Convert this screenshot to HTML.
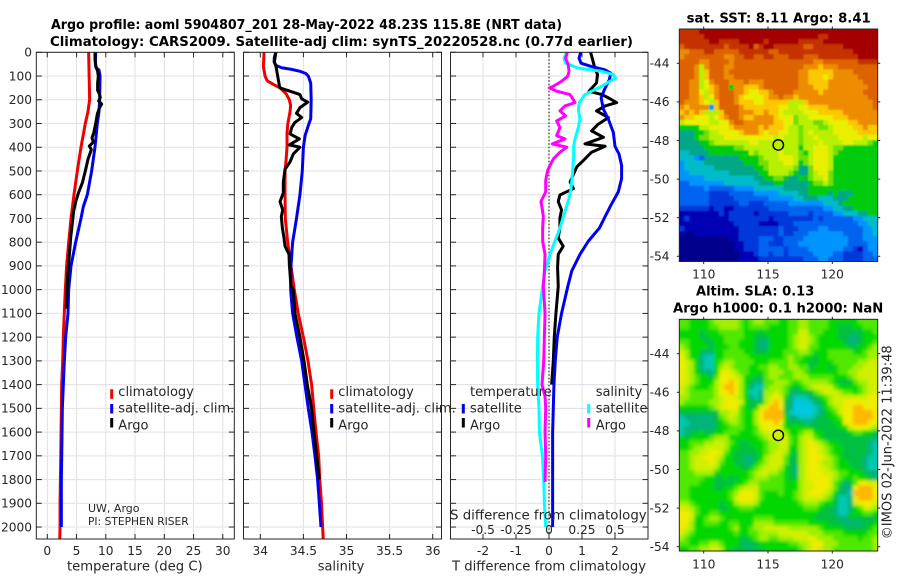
<!DOCTYPE html>
<html lang="en">
<head>
<meta charset="utf-8">
<title>Argo profile 5904807_201</title>
<style>
html,body{margin:0;padding:0;background:#fff;}
svg{display:block;}
text{font-family:"DejaVu Sans","Liberation Sans",sans-serif;fill:#262626;}
.ttl{font-weight:bold;font-size:13px;fill:#000;}
.leg{font-size:13px;}
.lab{font-size:13px;}
.tick{font-size:12.2px;}
</style>
</head>
<body>
<svg id="chart" xmlns="http://www.w3.org/2000/svg" width="900" height="580" viewBox="0 0 900 580">
  <defs>
    <clipPath id="sstClip"><rect x="679.3" y="29" width="198.4" height="232.5"/></clipPath>
    <clipPath id="slaClip"><rect x="679.3" y="319.3" width="198.4" height="231.7"/></clipPath>
    <filter id="softSla" x="-5%" y="-5%" width="110%" height="110%"><feGaussianBlur stdDeviation="1.6"/></filter>
    <filter id="softSst" x="-5%" y="-5%" width="110%" height="110%"><feGaussianBlur stdDeviation="0.9"/></filter>
  </defs>
  <rect width="900" height="580" fill="#fff"/>

  <text class="ttl" x="51" y="29" textLength="511" lengthAdjust="spacingAndGlyphs">Argo profile: aoml 5904807_201 28-May-2022 48.23S 115.8E (NRT data)</text>
  <text class="ttl" x="50" y="46" textLength="583" lengthAdjust="spacingAndGlyphs">Climatology: CARS2009. Satellite-adj clim: synTS_20220528.nc (0.77d earlier)</text>

  <g id="panelT"></g>
  <g id="panelS"></g>
  <g id="panelD"></g>
  <g id="mapSst"></g>
  <g id="mapSla"></g>

  <g>
    <rect x="110.2" y="389.3" width="3" height="9.5" fill="#f00000"/>
    <rect x="110.2" y="404" width="3" height="9.5" fill="#0000f0"/>
    <rect x="110.2" y="418" width="3" height="9.5" fill="#000"/>
    <text class="leg" x="118.3" y="396">climatology</text>
    <text class="leg" x="118.3" y="412.7" textLength="116" lengthAdjust="spacingAndGlyphs">satellite-adj. clim.</text>
    <text class="leg" x="118.3" y="429.3">Argo</text>
  </g>
  <g>
    <rect x="330.2" y="389.3" width="3" height="9.5" fill="#f00000"/>
    <rect x="330.2" y="404" width="3" height="9.5" fill="#0000f0"/>
    <rect x="330.2" y="418" width="3" height="9.5" fill="#000"/>
    <text class="leg" x="338.3" y="396">climatology</text>
    <text class="leg" x="338.3" y="412.7" textLength="117.5" lengthAdjust="spacingAndGlyphs">satellite-adj. clim.</text>
    <text class="leg" x="338.3" y="429.3">Argo</text>
  </g>
  <g>
    <rect x="461.8" y="404" width="3" height="9.5" fill="#0000f0"/>
    <rect x="461.8" y="418" width="3" height="9.5" fill="#000"/>
    <text class="leg" x="470" y="396">temperature</text>
    <text class="leg" x="470" y="412.7">satellite</text>
    <text class="leg" x="470" y="429.3">Argo</text>
    <rect x="587.2" y="404" width="3" height="9.5" fill="#00ffff"/>
    <rect x="587.2" y="418" width="3" height="9.5" fill="#ff00ff"/>
    <text class="leg" x="595.7" y="396">salinity</text>
    <text class="leg" x="595.7" y="412.7">satellite</text>
    <text class="leg" x="595.7" y="429.3">Argo</text>
  </g>

  <text x="88" y="512" style="font-size:11px">UW, Argo</text>
  <text x="88" y="525" textLength="100.7" lengthAdjust="spacingAndGlyphs" style="font-size:11px">PI: STEPHEN RISER</text>

  <text class="lab" x="67" y="570.5" textLength="135.7" lengthAdjust="spacingAndGlyphs">temperature (deg C)</text>
  <text class="lab" x="341" y="570.5" text-anchor="middle">salinity</text>
  <text class="lab" x="452" y="570.5" textLength="194" lengthAdjust="spacingAndGlyphs">T difference from climatology</text>
  <text class="lab" x="450" y="519.3" textLength="196.7" lengthAdjust="spacingAndGlyphs">S difference from climatology</text>

  <text class="ttl" x="686.7" y="22.7" textLength="184" lengthAdjust="spacingAndGlyphs">sat. SST: 8.11 Argo: 8.41</text>
  <text class="ttl" x="696" y="295.7" textLength="118.3" lengthAdjust="spacingAndGlyphs">Altim. SLA: 0.13</text>
  <text class="ttl" x="673" y="312.7" textLength="210.3" lengthAdjust="spacingAndGlyphs">Argo h1000: 0.1 h2000: NaN</text>
  <text class="lab" transform="translate(891.7 539.3) rotate(-90)" x="0" y="0" textLength="194" lengthAdjust="spacingAndGlyphs">©IMOS 02-Jun-2022 11:39:48</text>
</svg>

<script>
// ---------- axis ticks ----------
const depthTicks = [0,100,200,300,400,500,600,700,800,900,1000,1100,1200,1300,1400,1500,1600,1700,1800,1900,2000];
const tempTicks = [0,5,10,15,20,25,30];
const salTicks = [34,34.5,35,35.5,36];
const salTickLabels = ['34','34.5','35','35.5','36'];
const tDiffTicks = [-2,-1,0,1,2];
const sDiffTicks = [-0.5,-0.25,0,0.25,0.5];
const sDiffTickLabels = ['-0.5','-0.25','0','0.25','0.5'];
const lonTicks = [110,115,120];
const latTicks = [-44,-46,-48,-50,-52,-54];
const argoLon = 115.8;
const argoLat = -48.23;

// ---------- temperature panel ----------
const tempClimDepth = [0,100,200,250,300,400,500,600,700,800,900,1000,1100,1200,1300,1400,1500,1600,1700,1800,1900,2000,2050];
const tempClimValue = [7.07,7.15,7.24,6.95,6.5,5.76,5.13,4.56,4.05,3.66,3.3,3.08,2.9,2.74,2.63,2.46,2.41,2.35,2.3,2.24,2.18,2.18,2.13];
const tempSatDepth = [0,50,65,75,100,200,250,300,400,500,600,650,700,800,900,1000,1100,1200,1300,1400,1500,1600,1700,1800,1900,2000];
const tempSatValue = [8.27,8.21,8.32,8.84,9.01,8.95,8.84,8.55,8.15,7.58,6.84,6.16,5.76,4.85,4.05,3.65,3.54,3.14,2.91,2.74,2.57,2.52,2.46,2.4,2.4,2.4];
const tempArgoDepth = [0,30,60,80,100,130,160,175,190,205,218,235,260,300,340,360,378,395,410,450,500,550,590,630,670,720,780,840,900,950,1000,1080];
const tempArgoValue = [8.15,8.15,8.32,8.6,8.72,8.6,8.6,8.9,9.06,8.78,9.29,8.9,8.55,8.27,7.93,7.64,7.87,7.18,7.53,6.96,6.5,5.99,5.36,4.85,4.5,4.28,4.0,3.82,3.6,3.48,3.37,3.25];

// ---------- salinity panel ----------
const salClimDepth = [0,30,60,75,100,120,135,150,175,200,225,250,300,340,400,450,500,550,600,700,800,900,1000,1100,1200,1300,1400,1500,1600,1700,1800,1900,2000,2050];
const salClimValue = [34.043,34.04,34.036,34.043,34.055,34.08,34.15,34.23,34.30,34.337,34.352,34.345,34.32,34.31,34.31,34.30,34.287,34.287,34.287,34.29,34.318,34.356,34.394,34.44,34.5,34.553,34.595,34.62,34.646,34.677,34.69,34.71,34.723,34.73];
const salSatDepth = [0,20,40,55,65,72,80,90,100,130,200,280,300,350,400,500,600,700,800,900,1000,1100,1200,1300,1400,1500,1600,1700,1800,1900,2000];
const salSatValue = [34.18,34.163,34.16,34.18,34.248,34.364,34.46,34.53,34.557,34.585,34.59,34.585,34.565,34.52,34.50,34.487,34.46,34.42,34.375,34.356,34.352,34.375,34.425,34.48,34.518,34.557,34.6,34.634,34.665,34.685,34.704];
const salArgoDepth = [0,40,60,100,140,150,164,178,196,210,233,257,275,296,317,344,365,390,400,428,462,483,492,546,592,629,664,692,740,782,817,851,893,986,1000,1100,1200,1300,1400,1500,1600,1700,1800];
const salArgoValue = [34.182,34.163,34.182,34.2015,34.221,34.229,34.345,34.46,34.48,34.55,34.46,34.42,34.48,34.40,34.364,34.345,34.453,34.337,34.46,34.383,34.345,34.306,34.287,34.267,34.267,34.229,34.26,34.244,34.256,34.275,34.287,34.333,34.337,34.356,34.383,34.402,34.46,34.507,34.545,34.595,34.623,34.654,34.684];

// ---------- difference panel ----------
const diffTSatDepth = [0,25,46,60,74,88,115,157,192,240,282,338,396,428,476,532,588,643,692,740,796,851,921,986,1100,1200,1300,1400,1500,1600,1800,2000];
const diffTSatValue = [0.96,0.91,0.97,1.29,1.7,1.87,1.83,1.68,1.58,1.65,1.8,1.95,2.0,2.12,2.2,2.2,2.1,1.88,1.7,1.53,1.19,0.94,0.69,0.57,0.38,0.25,0.19,0.15,0.13,0.11,0.11,0.11];
const diffTArgoDepth = [0,25,67,94,129,164,178,192,212,226,247,275,303,331,358,386,396,421,456,483,546,574,601,629,664,699,740,782,817,851,907,986,1100,1200,1300,1400];
const diffTArgoValue = [1.26,1.31,1.39,1.47,1.44,1.21,1.6,1.8,2.05,1.7,1.44,1.8,1.49,1.29,1.65,1.09,1.7,1.29,1.04,0.84,0.64,0.74,0.33,0.28,0.38,0.33,0.33,0.28,0.43,0.28,0.26,0.28,0.21,0.16,0.13,0.08];
const diffSSatDepth = [0,25,46,67,74,80,94,108,122,143,157,178,212,240,282,317,365,396,435,504,574,615,671,740,796,851,921,986,1100,1200,1300,1400,1500,1600,1700,1800,1900,2000];
const diffSSatValue = [0.134,0.114,0.126,0.222,0.323,0.399,0.487,0.505,0.462,0.399,0.348,0.273,0.23,0.222,0.235,0.222,0.197,0.187,0.187,0.179,0.167,0.152,0.121,0.083,0.045,0.008,-0.03,-0.048,-0.076,-0.086,-0.088,-0.086,-0.076,-0.073,-0.05,-0.04,-0.035,-0.025];
const diffSArgoDepth = [0,25,53,80,101,122,143,150,164,178,199,212,226,247,268,289,317,351,365,386,400,421,449,476,497,539,588,629,664,692,740,796,851,921,986,1100,1200,1300,1400,1450,1500,1600,1700,1810];
const diffSArgoValue = [0.139,0.126,0.146,0.152,0.141,0.096,0.033,0.003,0.058,0.159,0.184,0.197,0.121,0.083,0.126,0.058,0.083,0.058,0.121,0.025,0.134,0.083,0.033,0.008,-0.01,-0.025,-0.025,-0.061,-0.05,-0.043,-0.048,-0.048,-0.03,-0.035,-0.043,-0.03,-0.035,-0.04,-0.053,-0.03,-0.025,-0.03,-0.025,-0.03];

// ---------- SST map levels: a = coldest ... p = warmest ----------
const sstRows = [
"oooopppppp pppppppppp pppppppppp pppppppppp",
"oooooppppp pppppppppp ppppppppoo pppppppppp",
"ooooooppoo oopppppopp ppppooooop pppppppppp",
"noooooooon oooopnoppo ooooonnooo oooppppppp",
"mmnnnoonnn nnoooooonn oooooooooo oooooppppp",
"mnnnnnnnnm mnnoonnoon nnooonnnoo oooooopppp",
"nnnnmmnnnn mnnnnnnnnn nnnnnnnmmn nnnnnnoooo",
"nnnmjmnnnm mnnnnnnnnn nnnnnmmmlm mmnnnnnnnn",
"nnnmjlnnnm nnnnnnnnnn nnnnmmllll lmmmmnnnnn",
"nnnmjlnnnm mnnnnnnnnn nnnnmmlllk lmmmmmnnnn",
"nnmmjkmnnn mmmnmmmnnn nnnnmmllll mmmmmmmnnn",
"nnmmjklmnn hmmlllmnnn nnnnmmmlll mmmmmmmmnn",
"nnmmkjlmnn nmmlkkllmn nnnmmmmmlm mmmmmmmnnn",
"nnmmljkmnn nmlkkkklmm nmmlmmmmmm mmmmmmmmnn",
"nmmmlkjlnn nmlllkklll lljjjlmmmm mmmmmmmmmn",
"mlmmmmelnn nnmlllllll kkjjkkllll mmmmmmmmmn",
"lmlmljjjln nnmmmllmll kjjjjkkkll lllmmmmmmm",
"mllkkkjklm nnmllmmmml kkkijjkkkk klllmmmmmm",
"jkkkkkjjkk mnnmmmmmml lkkijjjiij kkkkllmmmm",
"hhhhjjkkkk lmmmmmlmll lkjjijjjii jkkkkllmll",
"ggghhijjkk kklmmmlkll kkjjijkjjj jkkkkkllll",
"ggghiijjjk kkkkkkkkkj kjjjijjkjj jjkkkkkjkk",
"gggghhijjj jjjjkkjjjj jjjjijjjkj jjjkkjjjih",
"ggggghhhhh hiijjjjjjj jjjjhjjkkk jiihhhhhhh",
"ffgggghhhh hhhhjijjjj kjjjihjkkk jihhhhhhhh",
"fffedggggg gghhhhijjj kkkjiijkkk jhhhhhhhhh",
"effffggggg ggghhhiijj jkkjhijkkk jhhhhhhhhh",
"effffffggg ggggghhijj jjjiggikkk jhhhhhhhhh",
"eeffffffff gggggghhjj jjihggijkk ihhhhhhhhh",
"eeeeefffff fffffgghhi ihgghhijjk ihhhhhhhhh",
"ddeeeeeeef ffffffgggh hggggghiij ihhhhhhhhh",
"dddddedddd deeeefffff fggggghhhh hhhhhhhhhh",
"ddddddcccc dddddeeeee ffffgghhhh ghggghhhhh",
"ddddddcccc cdddddddee eeeffgggff fggghhhhhh",
"ddddddcccc ccddcccddd ddeeeeeeef ffghhhhhhh",
"ccccccbccb bcccccccdd ddddddddde effgghhhhh",
"bbbbbbbbcb cccccbcccc ccddddcddd deefffgghh",
"bcbbbbbbbb ccccccccbc cccccccdcd dddddeefff",
"bbbbbbbbbb bcccccbbbb cccddddddd ddddddeeff",
"cbbbbbbbbb bbcccccccc dcccddddee dddddddeef",
"baabbbbbbb bbcccccccc dccdddeeee eeeddddeef",
"aaaaaaaaaa bbccccdddc cddddeeeee eeeedddeee",
"aaaaaaaaaa abbcccddcc cdddeeeeee eeeeddddee",
"aaaaaaaaaa abbcccdddd dcddddeeee eeeddcbdee",
"aaaaaaaaaa aabbbcddcd dcdddddeee eddccccdde",
"aaaaaaaaaa aabbbbcccc cccccdddee dddccccddd"
];

// ---------- SLA map levels: 0 = lowest ... 9 = highest ----------
const slaRows = [
"5544445666 6654566555 4455665555 4444445555",
"5544445566 6654555544 4455665555 4433344555",
"4444344455 5554443444 4455775554 4433333445",
"4444334445 5554433344 4456776544 4433223444",
"5544433445 5544432244 4456776544 4443223445",
"6544443444 5544432244 4456775544 4444334456",
"7644322445 5554433344 4555665444 5555544566",
"8644211445 5555444444 4565544344 5555555566",
"8764211456 6555544455 5565443344 4555556677",
"8764211467 6555445566 5566553444 3455566777",
"8764322478 7655444566 6556654444 4455667777",
"8765443588 8764433566 5556665555 5444567777",
"8765444688 9864322556 6654566666 5433356677",
"7654445689 9864211566 6543456777 7544445677",
"7655555688 9864112667 6532333567 7765545677",
"6655555678 8764212678 7421112345 6777777788",
"6555556678 8874333689 8320001234 6778888888",
"4444445678 8854347899 8320000124 5678899888",
"3333333366 7754468999 9310000123 4578899998",
"1222222356 7654468999 9422111233 4458899998",
"1122222345 6654468889 8433322333 3448899988",
"1222222344 5554457888 7444444333 3344788876",
"1233433445 5544456777 7644566443 3333455443",
"4344445666 4444445677 7754677543 3333333332",
"4455566776 5433444566 7754678765 4433333321",
"4456677776 4433344566 7744678876 5443333321",
"5566778875 4333334567 7643678876 5443333321",
"5567788764 4332234677 7533678887 6543333211",
"5567778754 4332245677 7533678876 6544333211",
"5567777644 4433456777 6432678877 6544433211",
"5556666444 4444567766 5432678887 7655444322",
"5555544334 3344566655 5433678888 7654454432",
"5555444333 3445665555 5444677888 7542358877",
"5544444334 4567775555 5444677888 7532289998",
"5544444444 5688875444 5445678887 6422199998",
"5544444444 5788875444 4445677776 5311289998",
"6654444434 4677764444 4444566654 4311278887",
"7765444433 4455544444 4444455543 3211245776",
"8875445544 4444444444 4444444433 3211344554",
"8874456654 4444455554 4444444333 3322333333",
"8864455544 5544466665 5555554444 3332222334",
"8764444444 5644566777 7766666654 4443333345",
"7654444444 4544556666 7777776665 5554444455",
"6544444444 4433456655 6667778766 6555554556",
"5544556654 4432334444 4455667886 6655555556",
"4455667764 4333233444 4444567876 6555555556"
];

// ---------- colour maps ----------
const sstColors = ['#00008c','#0000b4','#0038dc','#0064f0','#0094ff','#00bcc8','#00a888','#00cc10','#70e000','#b8f000','#e8f000','#fcc800','#ee8c00','#dc6400','#c43000','#a40000'];
const slaColors = ['#00c8e0','#00c8b0','#00b47c','#00c040','#00d800','#50e800','#a0f000','#d0f000','#f0ec00','#ffb800'];

// ---------- scales ----------
const panelTop = 52.3, panelBottom = 539;
function yOf(d){ return panelTop + d * 0.23737; }
function xTemp(t){ return 47.3 + 5.85 * t; }
function xSal(s){ return 260.3 + 86.2 * (s - 34); }
function xDT(t){ return 549 + 33 * t; }
function xDS(s){ return 549 + 132 * s; }
function lonX(lon){ return 703.7 + 12.86 * (lon - 110); }
function latY(lat, y44){ return y44 + 19.3 * (-44 - lat); }

const NS = 'http://www.w3.org/2000/svg';
function mk(tag, attrs, parent){
  const el = document.createElementNS(NS, tag);
  for (const k in attrs) el.setAttribute(k, attrs[k]);
  parent.appendChild(el);
  return el;
}

function drawGrid(g, left, right, xs){
  depthTicks.forEach(function(d){
    const y = yOf(d);
    const a = mk('line', {x1:left,x2:right,y1:y,y2:y,stroke:'#d2d9f4','stroke-width':1,'stroke-dasharray':'2 2'}, g);
    
    
    const b = mk('line', {x1:left+2,x2:right,y1:y,y2:y,stroke:'#f0e0d6','stroke-width':1,'stroke-dasharray':'2 2'}, g);
    
    
  });
  xs.forEach(function(x){
    const a = mk('line', {x1:x,x2:x,y1:panelTop,y2:panelBottom,stroke:'#d2d9f4','stroke-width':1,'stroke-dasharray':'2 2'}, g);
    
    
    const b = mk('line', {x1:x,x2:x,y1:panelTop+2,y2:panelBottom,stroke:'#f0e0d6','stroke-width':1,'stroke-dasharray':'2 2'}, g);
    
    
  });
}

function drawSeries(g, name, depths, values, xFn, color){
  const pts = depths.map(function(d, i){ return xFn(values[i]).toFixed(2) + ',' + yOf(d).toFixed(2); }).join(' ');
  const line = mk('polyline', {points:pts,fill:'none',stroke:color,'stroke-width':3,'stroke-linejoin':'round','stroke-linecap':'butt'}, g);
  
  
}

function drawFrame(g, left, right, xs){
  const frame = mk('rect', {x:left,y:panelTop,width:right-left,height:panelBottom-panelTop,fill:'none',stroke:'#262626','stroke-width':1}, g);
  
  
  depthTicks.forEach(function(d){
    const y = yOf(d);
    const l = mk('line', {x1:left,x2:left+5.5,y1:y,y2:y,stroke:'#262626','stroke-width':1}, g);
    
    
    const r = mk('line', {x1:right-5.5,x2:right,y1:y,y2:y,stroke:'#262626','stroke-width':1}, g);
    
    
  });
  xs.forEach(function(x){
    const t = mk('line', {x1:x,x2:x,y1:panelTop,y2:panelTop+5,stroke:'#262626','stroke-width':1}, g);
    
    
    const b = mk('line', {x1:x,x2:x,y1:panelBottom-5,y2:panelBottom,stroke:'#262626','stroke-width':1}, g);
    
    
  });
}

function xLabels(g, ticks, labels, xFn, y, name){
  ticks.forEach(function(t, i){
    const el = mk('text', {x:xFn(t),y:y,'text-anchor':'middle','class':'tick'}, g);
    el.textContent = labels[i];
    
    
  });
}

// temperature panel
const pT = document.getElementById('panelT');
const tXs = tempTicks.map(xTemp);
drawGrid(pT, 36.3, 234.3, tXs);
drawSeries(pT, 'series-temperature-climatology', tempClimDepth, tempClimValue, xTemp, '#f00000');
drawSeries(pT, 'series-temperature-satellite', tempSatDepth, tempSatValue, xTemp, '#0000f0');
drawSeries(pT, 'series-temperature-argo', tempArgoDepth, tempArgoValue, xTemp, '#000000');
drawFrame(pT, 36.3, 234.3, tXs);
xLabels(pT, tempTicks, tempTicks.map(String), xTemp, 555, 'temperature-tick-label');
depthTicks.forEach(function(d){
  const el = mk('text', {x:32,y:yOf(d)+4.3,'text-anchor':'end','class':'tick'}, pT);
  el.textContent = String(d);
  
  
});

// salinity panel
const pS = document.getElementById('panelS');
const sXs = salTicks.map(xSal);
drawGrid(pS, 243.5, 441.5, sXs);
drawSeries(pS, 'series-salinity-climatology', salClimDepth, salClimValue, xSal, '#f00000');
drawSeries(pS, 'series-salinity-satellite', salSatDepth, salSatValue, xSal, '#0000f0');
drawSeries(pS, 'series-salinity-argo', salArgoDepth, salArgoValue, xSal, '#000000');
drawFrame(pS, 243.5, 441.5, sXs);
xLabels(pS, salTicks, salTickLabels, xSal, 555, 'salinity-tick-label');

// difference panel
const pD = document.getElementById('panelD');
const dXs = tDiffTicks.map(xDT);
drawGrid(pD, 450.5, 648, dXs);
const zeroLine = mk('line', {x1:xDT(0),x2:xDT(0),y1:panelTop,y2:panelBottom,stroke:'#000','stroke-width':1,'stroke-dasharray':'1.5 2'}, pD);


drawSeries(pD, 'series-t-difference-argo', diffTArgoDepth, diffTArgoValue, xDT, '#000000');
drawSeries(pD, 'series-t-difference-satellite', diffTSatDepth, diffTSatValue, xDT, '#0000f0');
drawSeries(pD, 'series-s-difference-satellite', diffSSatDepth, diffSSatValue, xDS, '#00ffff');
drawSeries(pD, 'series-s-difference-argo', diffSArgoDepth, diffSArgoValue, xDS, '#ff00ff');
drawFrame(pD, 450.5, 648, dXs);
xLabels(pD, tDiffTicks, tDiffTicks.map(String), xDT, 555, 't-difference-tick-label');
xLabels(pD, sDiffTicks, sDiffTickLabels, xDS, 534, 's-difference-tick-label');

// maps
function drawMap(g, rows, colorFor, clipId, filterId, left, top, width, height, y44, labelBaseline){
  const cells = mk('g', {'clip-path':'url(#' + clipId + ')'}, g);
  
  
  const inner = mk('g', {filter:'url(#' + filterId + ')'}, cells);
  
  
  const nRows = rows.length;
  const nCols = 40;
  const cw = width / nCols, ch = height / nRows;
  const pad = 5;
  rows.forEach(function(raw, r){
    const row = raw.replace(/\s/g, '');
    for (let c = 0; c < nCols; c++){
      const key = row.charAt(Math.min(c, row.length - 1));
      const x0 = left + c * cw - (c === 0 ? pad : 0);
      const x1 = left + (c + 1) * cw + (c === nCols - 1 ? pad : 0.4);
      const y0 = top + r * ch - (r === 0 ? pad : 0);
      const y1 = top + (r + 1) * ch + (r === nRows - 1 ? pad : 0.4);
      const cell = mk('rect', {x:x0.toFixed(2), y:y0.toFixed(2), width:(x1 - x0).toFixed(2), height:(y1 - y0).toFixed(2), fill:colorFor(key)}, inner);
      
      
    }
  });
  const frame = mk('rect', {x:left,y:top,width:width,height:height,fill:'none',stroke:'#262626','stroke-width':1}, g);
  
  
  lonTicks.forEach(function(lon){
    const x = lonX(lon);
    const t = mk('line', {x1:x,x2:x,y1:top-2.5,y2:top,stroke:'#262626','stroke-width':1}, g);
    
    
    const b = mk('line', {x1:x,x2:x,y1:top+height,y2:top+height+2.5,stroke:'#262626','stroke-width':1}, g);
    
    
    const lab = mk('text', {x:x,y:labelBaseline,'text-anchor':'middle','class':'tick'}, g);
    lab.textContent = String(lon);
    
    
  });
  latTicks.forEach(function(lat){
    const y = latY(lat, y44);
    const t = mk('line', {x1:left-2.5,x2:left,y1:y,y2:y,stroke:'#262626','stroke-width':1}, g);
    
    
    const r = mk('line', {x1:left+width,x2:left+width+2.5,y1:y,y2:y,stroke:'#262626','stroke-width':1}, g);
    
    
    const lab = mk('text', {x:669.5,y:y+4.3,'text-anchor':'end','class':'tick'}, g);
    lab.textContent = String(lat);
    
    
  });
  const marker = mk('circle', {cx:lonX(argoLon),cy:latY(argoLat, y44),r:5.2,fill:'none',stroke:'#000','stroke-width':1.4}, g);
  
  
}

drawMap(document.getElementById('mapSst'), sstRows, function(k){ return sstColors[k.charCodeAt(0) - 97]; }, 'sstClip', 'softSst', 679.3, 29, 198.4, 232.5, 63.3, 278.3);
drawMap(document.getElementById('mapSla'), slaRows, function(k){ return slaColors[k.charCodeAt(0) - 48]; }, 'slaClip', 'softSla', 679.3, 319.3, 198.4, 231.7, 353.7, 568.7);
</script>
</body>
</html>
